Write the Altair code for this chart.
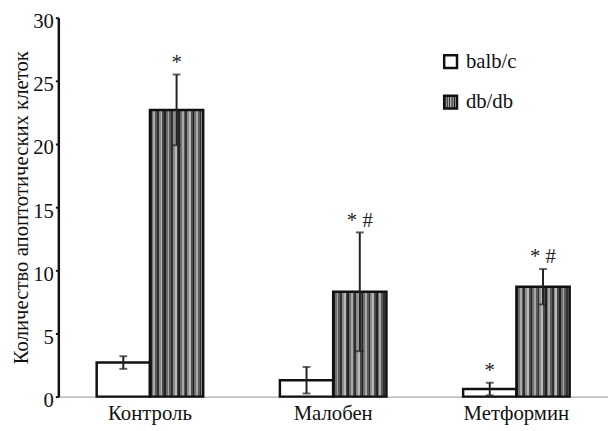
import altair as alt
import pandas as pd

groups = ["Контроль", "Малобен", "Метформин"]
series = ["balb/c", "db/db"]
balb_mean = [2.7, 1.3, 0.6]
balb_err = [0.5, 1.05, 0.5]
db_mean = [22.7, 8.3, 8.7]
db_err = [2.8, 4.7, 1.4]
balb_marks = ["", "", "*"]
db_marks = ["*", "* #", "* #"]

rows = []
for i, g in enumerate(groups):
    rows.append(dict(group=g, series="balb/c", mean=balb_mean[i], err=balb_err[i], mark=balb_marks[i]))
    rows.append(dict(group=g, series="db/db", mean=db_mean[i], err=db_err[i], mark=db_marks[i]))
df = pd.DataFrame(rows)
df["lo"] = df["mean"] - df["err"]
df["hi"] = df["mean"] + df["err"]

FONT = "Liberation Serif"

# striped fill via hard-stop gradient
stripe_cols = ["#222222", "#6e6e6e", "#a8a8a8", "#5a5a5a", "#303030", "#8c8c8c", "#b8b8b8", "#4a4a4a"]
n = 30
stops = []
for k in range(n):
    c = stripe_cols[k % len(stripe_cols)]
    stops.append(alt.GradientStop(offset=k / n, color=c))
    stops.append(alt.GradientStop(offset=(k + 1) / n, color=c))
stripes = alt.Gradient(gradient="linear", stops=stops, x1=0, x2=1, y1=0, y2=0)

xenc = alt.X("group:N", sort=groups, title=None,
             scale=alt.Scale(paddingInner=0, paddingOuter=0),
             axis=alt.Axis(labelAngle=0, ticks=False, domainColor="#aaaaaa", domainWidth=1.5,
                           labelFontSize=21, labelColor="#111", labelPadding=6))
xoff = alt.XOffset("series:N", sort=series, scale=alt.Scale(paddingInner=0, paddingOuter=0.72))
yscale = alt.Scale(domain=[0, 30], nice=False)
yenc = alt.Y("mean:Q", scale=yscale,
             title="Количество апоптотических клеток",
             axis=alt.Axis(values=[0, 5, 10, 15, 20, 25, 30], grid=False, domainColor="#111",
                           domainWidth=2.5, tickColor="#111", tickSize=3, tickWidth=2,
                           labelFontSize=21, labelColor="#111", labelPadding=2,
                           labelOffset=4,
                           titleFontSize=21, titleFontWeight="normal",
                           titleColor="#111", titlePadding=1))

base = alt.Chart(df)

bars_w = base.transform_filter(alt.datum.series == "balb/c").mark_bar(
    fill="white", stroke="#111", strokeWidth=2.5).encode(x=xenc, xOffset=xoff, y=yenc)
bars_d = base.transform_filter(alt.datum.series == "db/db").mark_bar(
    fill=stripes, stroke="#111", strokeWidth=2.5).encode(x=xenc, xOffset=xoff, y=yenc)

err = base.mark_rule(color="#222", strokeWidth=2).encode(
    x=xenc, xOffset=xoff, y=alt.Y("lo:Q", scale=yscale), y2="hi:Q")
cap_hi = base.mark_tick(orient="horizontal", size=8, thickness=2, color="#222").encode(
    x=xenc, xOffset=xoff, y=alt.Y("hi:Q", scale=yscale))
cap_lo = base.mark_tick(orient="horizontal", size=8, thickness=2, color="#222").encode(
    x=xenc, xOffset=xoff, y=alt.Y("lo:Q", scale=yscale))
ann = base.mark_text(font=FONT, fontSize=21, color="#222", baseline="alphabetic", dy=-6).encode(
    x=xenc, xOffset=xoff, y=alt.Y("hi:Q", scale=yscale), text="mark:N")

leg_w = alt.Chart(pd.DataFrame({"s": ["balb/c"]})).mark_rect(
    fill="white", stroke="#111", strokeWidth=2.5).encode(
    x=alt.value(391), x2=alt.value(404), y=alt.value(38), y2=alt.value(51))
leg_d = alt.Chart(pd.DataFrame({"s": ["db/db"]})).mark_rect(
    fill=stripes, stroke="#111", strokeWidth=2.5).encode(
    x=alt.value(391), x2=alt.value(404), y=alt.value(79), y2=alt.value(92))
leg_t = alt.Chart(pd.DataFrame({"s": series, "yy": [45, 86]})).mark_text(
    font=FONT, fontSize=21, color="#111", align="left", baseline="middle").encode(
    x=alt.value(413), y=alt.Y("yy:Q", scale=None), text="s:N")

chart = alt.layer(bars_w, bars_d, err, cap_hi, cap_lo, ann, leg_w, leg_d, leg_t).properties(
    width=557, height=384,
    autosize=alt.AutoSizeParams(type="none"),
    padding={"left": 51, "top": 7, "right": 0, "bottom": 32},
).configure(background="white", font=FONT).configure_view(stroke=None).configure_axis(
    labelFont=FONT, titleFont=FONT)

chart.save("out.html", embed_options={"renderer": "svg", "actions": False})
